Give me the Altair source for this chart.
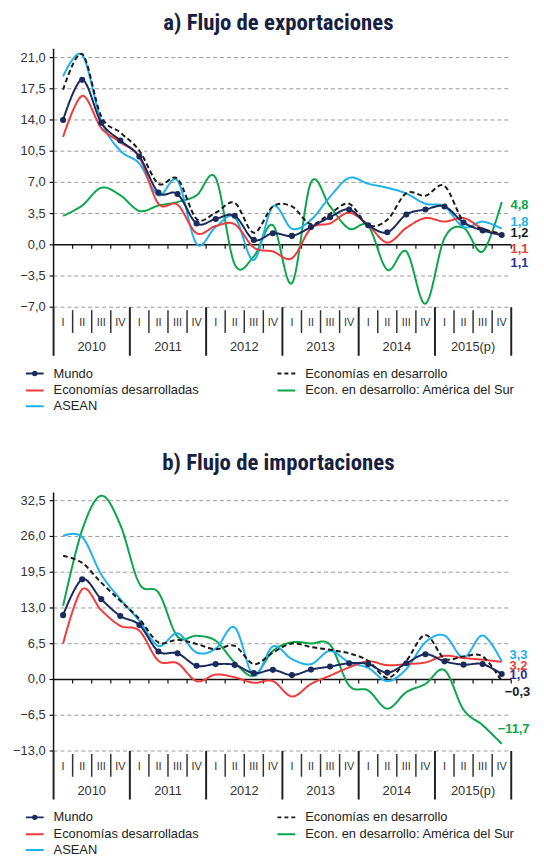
import altair as alt
import pandas as pd

# ---------------- data ----------------
quarters = ["I", "II", "III", "IV"] * 6
years = ["2010", "2011", "2012", "2013", "2014", "2015(p)"]
series = ["Mundo", "Economías en desarrollo", "Economías desarrolladas",
          "Econ. en desarrollo: América del Sur", "ASEAN"]

# a) Flujo de exportaciones (2010-I ... 2015-IV)
exp_mundo = [14.0, 18.5, 13.7, 11.7, 9.9, 5.85, 5.7, 2.4, 2.9, 3.25, 0.55, 1.3,
             1.0, 2.0, 3.1, 3.96, 2.2, 1.4, 3.4, 3.96, 4.3, 2.5, 1.6, 1.1]
exp_desarrollo = [17.4, 21.4, 14.4, 12.6, 10.55, 6.85, 7.4, 2.9, 3.6, 4.7, 1.35, 4.3,
                  4.3, 2.3, 3.5, 4.6, 2.2, 2.8, 5.8, 5.5, 6.6, 2.6, 1.8, 1.2]
exp_desarrolladas = [12.1, 16.7, 13.1, 11.5, 9.8, 4.6, 4.5, 1.3, 2.1, 2.3, -0.3, -0.75,
                     -1.5, 1.85, 2.4, 3.6, 2.2, 0.25, 1.9, 3.0, 2.6, 3.0, 1.8, 1.1]
exp_sur = [3.25, 4.4, 6.4, 5.55, 3.8, 4.4, 4.8, 5.55, 7.5, -2.2, -1.3, 2.2,
           -4.3, 7.0, 4.3, 1.8, 2.1, -2.8, -0.75, -6.6, 0.75, 1.9, -0.75, 4.8]
exp_asean = [18.9, 21.3, 13.9, 10.55, 9.1, 5.55, 7.2, 0.1, 2.0, 3.1, -1.7, 4.3,
             1.8, 2.8, 5.4, 7.5, 6.85, 6.4, 5.75, 4.6, 4.3, 2.0, 2.6, 1.8]

# b) Flujo de importaciones
imp_mundo = [11.7, 18.2, 14.6, 11.55, 9.9, 5.1, 4.75, 2.5, 2.8, 2.65, 1.15, 1.75,
             0.8, 1.8, 2.35, 2.95, 2.8, 1.25, 2.95, 4.6, 3.3, 2.7, 2.8, 1.0]
imp_desarrollo = [22.5, 21.2, 17.6, 14.3, 11.0, 6.75, 7.2, 6.45, 5.5, 6.1, 2.8, 4.9,
                  6.55, 5.9, 5.4, 4.75, 3.4, 0.3, 3.4, 8.1, 3.8, 4.2, 4.2, -0.3]
imp_desarrolladas = [6.55, 16.4, 12.6, 9.75, 8.85, 3.4, 2.95, -0.3, 0.9, 0.4, -0.6, -0.3,
                     -3.1, -0.8, 0.7, 2.2, 3.3, 2.6, 2.8, 3.1, 4.3, 3.9, 3.6, 3.2]
imp_sur = [13.4, 27.2, 33.4, 28.1, 17.4, 15.8, 7.8, 7.95, 7.05, 3.1, 0.7, 5.2,
           6.75, 6.55, 6.3, -1.1, -2.0, -5.3, -2.3, -0.8, 1.7, -5.5, -8.3, -11.7]
imp_asean = [26.1, 25.9, 19.1, 14.6, 10.65, 6.1, 8.4, 4.9, 5.6, 9.45, 0.7, 6.0,
             3.7, 2.8, 5.2, 3.1, 2.1, -0.3, 1.9, 6.75, 8.0, 4.0, 8.0, 3.3]

exp_ticks = [-7.0, -3.5, 0.0, 3.5, 7.0, 10.5, 14.0, 17.5, 21.0]
imp_ticks = [-13.0, -6.5, 0.0, 6.5, 13.0, 19.5, 26.0, 32.5]

# ---------------- styles ----------------
COL = {
    "Mundo": "#1B2A5C",
    "Economías en desarrollo": "#1A1A1A",
    "Economías desarrolladas": "#EF3B3B",
    "Econ. en desarrollo: América del Sur": "#0BA64B",
    "ASEAN": "#1EB1EC",
}
LABCOL = {
    "Mundo": "#2E3192",
    "Economías en desarrollo": "#1A1A1A",
    "Economías desarrolladas": "#EF3B3B",
    "Econ. en desarrollo: América del Sur": "#0BA64B",
    "ASEAN": "#1EB1EC",
}
FONT = "Liberation Sans, Arial, sans-serif"
TFONT = "Roboto Condensed, Liberation Sans Narrow, Roboto, sans-serif"
W = 462
H = 261
FMT = "replace(format(datum.valor, '.1f'), '.', ',')"


def panel(vals, title, ydom, yticks, label_dy, label_dx, title_offset):
    rows = []
    for s, v in zip(series, vals):
        for i, y in enumerate(v):
            rows.append({"serie": s, "idx": i, "valor": y})
    df = pd.DataFrame(rows)
    xs = alt.Scale(domain=[-0.5, 23.5], nice=False, zero=False)
    ys = alt.Scale(domain=ydom, nice=False, zero=False)
    X = alt.X("idx:Q", scale=xs, axis=None)
    Y = alt.Y("valor:Q", scale=ys, axis=None)

    # gridlines (dashed), zero line and y axis
    grid_df = pd.DataFrame({"valor": [t for t in yticks if t != 0]})
    grid = alt.Chart(grid_df).mark_rule(color="#9A9A9A", strokeDash=[4, 3], strokeWidth=1).encode(
        y=Y, x=alt.value(0), x2=alt.value(W))
    zero = alt.Chart(pd.DataFrame({"valor": [0.0]})).mark_rule(color="#111", strokeWidth=1.5).encode(
        y=Y, x=alt.value(0), x2=alt.value(W))
    tick_df = pd.DataFrame({"valor": yticks})
    ytick = alt.Chart(tick_df).mark_rule(color="#111", strokeWidth=1.2).encode(
        y=Y, x=alt.value(-4), x2=alt.value(0))
    ylabels = alt.Chart(tick_df).transform_calculate(txt=FMT).mark_text(
        align="right", baseline="middle", fontSize=13, font=FONT, color="#333").encode(
        y=Y, x=alt.value(-8), text="txt:N")
    ydomain = alt.Chart(pd.DataFrame({"valor": [ydom[1]]})).mark_rule(color="#111", strokeWidth=1.5).encode(
        x=alt.value(0), y=alt.value(0), y2=alt.value(H))

    bnd_all = pd.DataFrame({"b": [i + 0.5 for i in range(24)]})
    zticks = alt.Chart(bnd_all).mark_rule(color="#111", strokeWidth=1.2, y2Offset=4).encode(
        x=alt.X("b:Q", scale=xs, axis=None), y=alt.datum(0, scale=ys, axis=None), y2=alt.datum(0))

    layers = [grid, zero, zticks, ytick, ylabels, ydomain]
    order = ["Econ. en desarrollo: América del Sur", "ASEAN", "Economías desarrolladas",
             "Economías en desarrollo", "Mundo"]
    for s in order:
        dash = [5, 3] if s == "Economías en desarrollo" else [1, 0]
        ln = alt.Chart(df).transform_filter(alt.datum.serie == s).mark_line(
            interpolate="cardinal", tension=0.0, strokeWidth=2, color=COL[s], strokeDash=dash).encode(
            x=X, y=Y)
        layers.append(ln)
    pts = alt.Chart(df).transform_filter(alt.datum.serie == "Mundo").mark_circle(
        size=38, color=COL["Mundo"], opacity=1).encode(x=X, y=Y)
    layers.append(pts)

    # end labels
    for s in series:
        lab = alt.Chart(df).transform_filter((alt.datum.serie == s) & (alt.datum.idx == 23)).transform_calculate(
            txt=FMT).mark_text(fontSize=13, fontWeight="bold", font=FONT, color=LABCOL[s],
                               dx=label_dx[s], dy=label_dy[s], align="center").encode(
            x=X, y=Y, text="txt:N")
        layers.append(lab)

    # category axis below plot
    qdf = pd.DataFrame({"idx": list(range(24)), "q": quarters})
    qlab = alt.Chart(qdf).mark_text(fontSize=11, font=FONT, color="#333").encode(
        x=alt.X("idx:Q", scale=xs, axis=None), y=alt.value(H + 16), text="q:N")
    qsep_df = pd.DataFrame({"b": [i + 0.5 for i in range(24) if (i + 1) % 4 != 0]})
    qsep = alt.Chart(qsep_df).mark_rule(color="#333", strokeWidth=1.5).encode(
        x=alt.X("b:Q", scale=xs, axis=None), y=alt.value(H + 3), y2=alt.value(H + 26))
    ysep_df = pd.DataFrame({"b": [-0.5 + 4 * k for k in range(7)]})
    ysep = alt.Chart(ysep_df).mark_rule(color="#222", strokeWidth=2).encode(
        x=alt.X("b:Q", scale=xs, axis=None), y=alt.value(H), y2=alt.value(H + 49))
    ydf = pd.DataFrame({"c": [1.5 + 4 * k for k in range(6)], "yr": years})
    ylab = alt.Chart(ydf).mark_text(fontSize=13, font=FONT, color="#333").encode(
        x=alt.X("c:Q", scale=xs, axis=None), y=alt.value(H + 40), text="yr:N")
    layers += [qlab, qsep, ysep, ylab]

    # legend (manual)
    leg_pos = {
        "Mundo": (-28, H + 67),
        "Economías en desarrollo": (226, H + 67),
        "Economías desarrolladas": (-28, H + 84),
        "Econ. en desarrollo: América del Sur": (226, H + 84),
        "ASEAN": (-28, H + 100),
    }
    for s in series:
        lx, ly = leg_pos[s]
        one = pd.DataFrame({"serie": [s]})
        dash = [4, 3] if s == "Economías en desarrollo" else [1, 0]
        sym = alt.Chart(one).mark_rule(color=COL[s], strokeWidth=2, strokeDash=dash).encode(
            x=alt.value(lx), x2=alt.value(lx + 18), y=alt.value(ly))
        txt = alt.Chart(one).mark_text(align="left", baseline="middle", fontSize=13, font=FONT,
                                       color="#222").encode(
            x=alt.value(lx + 28), y=alt.value(ly), text="serie:N")
        layers += [sym, txt]
        if s == "Mundo":
            dot = alt.Chart(one).mark_circle(size=30, color=COL[s], opacity=1).encode(
                x=alt.value(lx + 9), y=alt.value(ly))
            layers.append(dot)

    return alt.layer(*layers).properties(
        width=W, height=H,
        title=alt.TitleParams(title, fontSize=23, font=TFONT, fontWeight="bold", color="#16213F",
                              anchor="middle", offset=title_offset, dx=-4))


exp_vals = [exp_mundo, exp_desarrollo, exp_desarrolladas, exp_sur, exp_asean]
imp_vals = [imp_mundo, imp_desarrollo, imp_desarrolladas, imp_sur, imp_asean]

exp_dy = {"Mundo": 28, "Economías en desarrollo": -1, "Economías desarrolladas": 14,
          "Econ. en desarrollo: América del Sur": 3, "ASEAN": -7}
exp_dx = {s: 18 for s in series}
imp_dy = {"Mundo": 1.5, "Economías en desarrollo": 11, "Economías desarrolladas": 4.5,
          "Econ. en desarrollo: América del Sur": -14.5, "ASEAN": -6.5}
imp_dx = {s: 17 for s in series}
imp_dx["Econ. en desarrollo: América del Sur"] = 12
imp_dx["Economías en desarrollo"] = 16

a = panel(exp_vals, "a) Flujo de exportaciones", [-7, 22], exp_ticks, exp_dy, exp_dx, 13)
b = panel(imp_vals, "b) Flujo de importaciones", [-13, 34], imp_ticks, imp_dy, imp_dx, 17)

chart = alt.vconcat(a, b, spacing=39).properties(
    padding={"left": 5, "top": 0, "right": 5, "bottom": 0}
).configure_view(stroke=None)

chart.save("out.html", embed_options={"renderer": "svg", "actions": False})
